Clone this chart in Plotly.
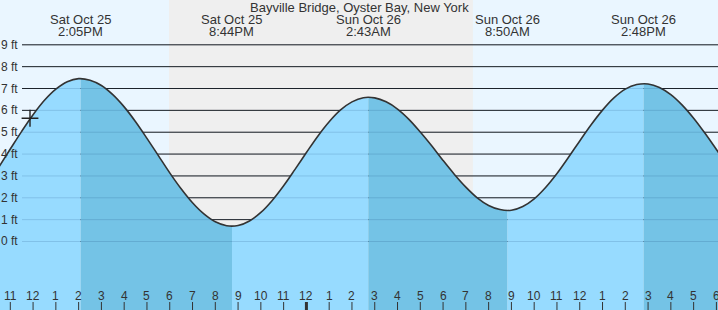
import plotly.graph_objects as go

# ---------------- data ----------------
title = "Bayville Bridge, Oyster Bay, New York"

# half-hourly readings: hours since Sat Oct 25 00:00, tide height in ft
times = [10.5, 11.0, 11.5, 12.0, 12.5, 13.0, 13.5, 14.0, 14.5, 15.0,
         15.5, 16.0, 16.5, 17.0, 17.5, 18.0, 18.5, 19.0, 19.5, 20.0,
         20.5, 21.0, 21.5, 22.0, 22.5, 23.0, 23.5, 24.0, 24.5, 25.0,
         25.5, 26.0, 26.5, 27.0, 27.5, 28.0, 28.5, 29.0, 29.5, 30.0,
         30.5, 31.0, 31.5, 32.0, 32.5, 33.0, 33.5, 34.0, 34.5, 35.0,
         35.5, 36.0, 36.5, 37.0, 37.5, 38.0, 38.5, 39.0, 39.5, 40.0,
         40.5, 41.0, 41.5, 42.0, 42.5]
heights = [3.41, 4.23, 5.04, 5.80, 6.46, 6.97, 7.31, 7.45, 7.38, 7.14,
           6.72, 6.16, 5.48, 4.72, 3.93, 3.14, 2.41, 1.77, 1.26, 0.90,
           0.72, 0.73, 0.94, 1.33, 1.88, 2.55, 3.30, 4.07, 4.82, 5.48,
           6.02, 6.39, 6.58, 6.57, 6.39, 6.06, 5.59, 5.01, 4.38, 3.71,
           3.07, 2.49, 2.00, 1.65, 1.46, 1.43, 1.60, 1.95, 2.47, 3.11,
           3.84, 4.60, 5.34, 6.01, 6.57, 6.97, 7.18, 7.21, 7.05, 6.72,
           6.24, 5.64, 4.95, 4.21, 3.46]

# tide events (high / low)
event_times = [14.083, 20.733, 26.717, 32.833, 38.8]
event_heights = [7.45, 0.70, 6.60, 1.42, 7.22]
event_days = ["Sat Oct 25", "Sat Oct 25", "Sun Oct 26", "Sun Oct 26", "Sun Oct 26"]
event_labels = ["2:05PM", "8:44PM", "2:43AM", "8:50AM", "2:48PM"]

# current time marker
now_time = [11.865]
now_height = [5.64]

# hour ticks
tick_hours = list(range(11, 43))
tick_labels = ["11", "12", "1", "2", "3", "4", "5", "6", "7", "8", "9", "10", "11",
               "12", "1", "2", "3", "4", "5", "6", "7", "8", "9", "10", "11",
               "12", "1", "2", "3", "4", "5", "6"]
midnight_hour = 24

ft_levels = [0, 1, 2, 3, 4, 5, 6, 7, 8, 9]
ft_labels = [f"{v} ft" for v in ft_levels]

sunset = 17.967
sunrise = 31.31

# ---------------- style ----------------
W, H = 718, 310
X_RANGE = [10.548, 42.07]
Y_RANGE = [-3.135, 11.05]
LIGHT = "#97dbff"
DARK = "#74c3e6"
DAY_BG = "#eaf6ff"
NIGHT_BG = "#efefef"
TXT = "#333333"
FONT = "Liberation Sans, Arial, sans-serif"
BASE = -5

fig = go.Figure()

# fill segments between consecutive tide events
b_t = [times[0]] + event_times + [times[-1]]
b_h = [heights[0]] + event_heights + [heights[-1]]
for i in range(len(b_t) - 1):
    a, b = b_t[i], b_t[i + 1]
    xs = [a] + [t for t in times if a + 0.05 < t < b - 0.05] + [b]
    ys = [b_h[i]] + [h for t, h in zip(times, heights) if a + 0.05 < t < b - 0.05] + [b_h[i + 1]]
    color = LIGHT if i % 2 == 0 else DARK
    fig.add_trace(go.Scatter(x=xs, y=[BASE] * len(xs), mode="lines",
                             line=dict(width=0), hoverinfo="skip", showlegend=False))
    fig.add_trace(go.Scatter(x=xs, y=ys, mode="lines", fill="tonexty",
                             fillcolor=color, line=dict(width=0, shape="spline"),
                             hoverinfo="skip", showlegend=False))

# tide curve
fig.add_trace(go.Scatter(x=times, y=heights, mode="lines",
                         line=dict(color="#333333", width=1.6, shape="spline"),
                         hoverinfo="skip", showlegend=False))

# current time marker
fig.add_trace(go.Scatter(x=now_time, y=now_height, mode="markers",
                         marker=dict(symbol="cross-thin", size=12,
                                     line=dict(color="#222222", width=1.4)),
                         hoverinfo="skip", showlegend=False))

shapes = []
shapes.append(dict(type="rect", xref="x", yref="paper", x0=sunset, x1=sunrise,
                   y0=0, y1=1, fillcolor=NIGHT_BG, line=dict(width=0), layer="below"))
for v in ft_levels:
    shapes.append(dict(type="line", xref="paper", yref="y", x0=22 / W, x1=1, y0=v, y1=v,
                       line=dict(color="#222222", width=1), layer="below"))
    shapes.append(dict(type="line", xref="paper", yref="y", x0=22 / W, x1=1, y0=v, y1=v,
                       line=dict(color="rgba(0,50,100,0.15)", width=1), layer="above"))
for hr in tick_hours:
    shapes.append(dict(type="line", xref="x", yref="paper", x0=hr, x1=hr,
                       y0=0, y1=8 / H,
                       line=dict(color="#333333", width=3 if hr == midnight_hour else 1),
                       layer="above"))

annotations = []
annotations.append(dict(text=title, xref="paper", yref="paper", x=0.5, y=1 - 8 / H,
                        xanchor="center", yanchor="middle", showarrow=False,
                        font=dict(family=FONT, size=13, color=TXT)))
for t, d, lab in zip(event_times, event_days, event_labels):
    annotations.append(dict(text=d, xref="x", yref="paper", x=t, y=1 - 20 / H,
                            xanchor="center", yanchor="middle", showarrow=False,
                            font=dict(family=FONT, size=13, color=TXT)))
    annotations.append(dict(text=lab, xref="x", yref="paper", x=t, y=1 - 31.5 / H,
                            xanchor="center", yanchor="middle", showarrow=False,
                            font=dict(family=FONT, size=13, color=TXT)))
for v, lab in zip(ft_levels, ft_labels):
    annotations.append(dict(text=lab, xref="paper", yref="y", x=20 / W, y=v,
                            xanchor="right", yanchor="middle", showarrow=False,
                            font=dict(family=FONT, size=12, color=TXT)))
for hr, lab in zip(tick_hours, tick_labels):
    annotations.append(dict(text=lab, xref="x", yref="paper", x=hr, y=1 - 295.5 / H,
                            xanchor="center", yanchor="middle", showarrow=False,
                            font=dict(family=FONT, size=12, color=TXT)))

fig.update_layout(
    width=W, height=H,
    margin=dict(l=0, r=0, t=0, b=0),
    paper_bgcolor=DAY_BG, plot_bgcolor=DAY_BG,
    xaxis=dict(range=X_RANGE, showgrid=False, zeroline=False, showticklabels=False,
               ticks="", fixedrange=True),
    yaxis=dict(range=Y_RANGE, showgrid=False, zeroline=False, showticklabels=False,
               ticks="", fixedrange=True),
    shapes=shapes, annotations=annotations, showlegend=False,
)

fig.write_html("out.html")
